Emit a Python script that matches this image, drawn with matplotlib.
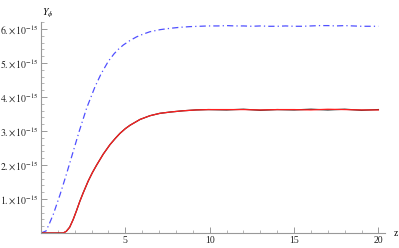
import numpy as np
import matplotlib.pyplot as plt
from matplotlib.ticker import MultipleLocator, FuncFormatter

plt.rcParams['font.family'] = ['Liberation Serif', 'DejaVu Serif']
plt.rcParams['mathtext.fontset'] = 'stix'

# values, Y in units of 1e-15
z_blue = [0.0, 0.3, 0.5, 0.73, 1.13, 1.52, 1.91, 2.27, 2.71, 3.2, 3.56, 3.99,
          4.33, 4.58, 4.88, 5.27, 5.67, 6.06, 6.46, 7.05, 7.65, 8.24, 8.83,
          9.4, 9.9, 10.5, 11.0, 11.5, 12.0, 12.5, 13.0, 13.5, 14.0, 14.5,
          15.0, 15.5, 16.0, 16.5, 17.0, 17.5, 18.0, 18.5, 19.0, 19.5, 20.0]
y_blue = [0.0, 0.06, 0.28, 0.55, 1.13, 1.75, 2.40, 3.00, 3.68, 4.30, 4.68, 5.05,
          5.27, 5.40, 5.53, 5.66, 5.77, 5.85, 5.92, 5.98, 6.02, 6.05, 6.07,
          6.08, 6.09, 6.09, 6.10, 6.09, 6.09, 6.08, 6.09, 6.08, 6.08, 6.09,
          6.08, 6.08, 6.09, 6.10, 6.10, 6.09, 6.10, 6.09, 6.08, 6.08, 6.08]

z_red = [0.0, 0.5, 1.0, 1.32, 1.5, 1.7, 1.91, 2.1, 2.3, 2.5, 2.8, 3.05, 3.3,
         3.69, 4.09, 4.4, 4.68, 5.0, 5.28, 5.87, 6.46, 7.05, 7.7, 8.43, 9.2,
         9.92, 11.0, 12.0, 13.0, 14.0, 15.0, 16.0, 17.0, 18.0, 19.0, 20.0]
y_red = [0.0, 0.0, 0.0, 0.0, 0.05, 0.17, 0.40, 0.65, 0.93, 1.18, 1.53, 1.78, 2.0,
         2.32, 2.60, 2.78, 2.93, 3.07, 3.17, 3.34, 3.45, 3.52, 3.56, 3.595, 3.62,
         3.63, 3.63, 3.63, 3.62, 3.63, 3.63, 3.62, 3.64, 3.63, 3.62, 3.62]

z_black = z_red
y_black = [0.0, 0.0, 0.0, 0.0, 0.05, 0.17, 0.40, 0.65, 0.93, 1.18, 1.53, 1.78, 2.0,
           2.32, 2.60, 2.78, 2.93, 3.07, 3.17, 3.34, 3.45, 3.52, 3.56, 3.595, 3.62,
           3.63, 3.62, 3.64, 3.61, 3.63, 3.62, 3.64, 3.62, 3.64, 3.61, 3.63]

scale = 1e-15

fig = plt.figure(figsize=(3.99, 2.48), dpi=100)
ax = fig.add_axes([41/399, 15/248, 344/399, 211/248])

ax.plot(z_blue, np.array(y_blue)*scale, color='#5050ff', lw=0.9,
        linestyle=(0, (5, 2.5, 1, 2.5)))
ax.plot(z_black, np.array(y_black)*scale, color='#202020', lw=0.9)
ax.plot(z_red, np.array(y_red)*scale, color='#ff2020', lw=0.9)

ax.set_xlim(0, 344/16.87)
ax.set_ylim(0, 211/34*scale)

for s in ['top', 'right']:
    ax.spines[s].set_visible(False)
for s in ['left', 'bottom']:
    ax.spines[s].set_color('#999999')
    ax.spines[s].set_linewidth(0.8)

ax.set_xticks([5, 10, 15, 20])
ax.set_yticks([k*scale for k in range(1, 7)])
ax.xaxis.set_minor_locator(MultipleLocator(1))
ax.yaxis.set_minor_locator(MultipleLocator(0.2e-15))

def yfmt(v, pos):
    return r'$%d.\!\times\!10^{-15}$' % int(round(v / scale))

ax.yaxis.set_major_formatter(FuncFormatter(yfmt))
ax.xaxis.set_major_formatter(FuncFormatter(lambda v, pos: '%d' % v))
ax.tick_params(which='both', direction='in', color='#999999', labelsize=7,
               labelcolor='#222222', pad=2)
ax.tick_params(which='major', length=4, width=0.7)
ax.tick_params(which='minor', length=2, width=0.5)

fig.text(42/399, 1 - 13/248, r'$Y_\phi$', fontsize=7, ha='left', va='center')
fig.text(394/399, 1 - 234/248, 'z', fontsize=7, ha='left', va='center')

fig.savefig('out.png', dpi=100)
